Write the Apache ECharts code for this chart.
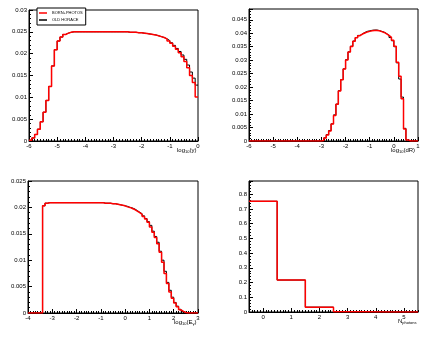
<!DOCTYPE html>
<html>
<head>
<meta charset="utf-8">
<script src="https://cdn.jsdelivr.net/npm/echarts@6/dist/echarts.min.js"></script>
<style>
  html, body { margin: 0; padding: 0; background: #fff; }
  #chart { width: 436px; height: 338px; }
</style>
</head>
<body>
<div id="chart"></div>
<script>
// panel 1: log10(y), bins of 0.1 from -6 to 0
var yBinStart = -6, yBinWidth = 0.1
var yBorn = [
  0.0002, 0.0007, 0.0015, 0.0027, 0.0044, 0.0066, 0.0093, 0.0125, 0.0172, 0.0209,
  0.0229, 0.0238, 0.0244, 0.0247, 0.0249, 0.0250, 0.0250, 0.0250, 0.0250, 0.0250,
  0.0250, 0.0250, 0.0250, 0.0250, 0.0250, 0.0250, 0.0250, 0.0250, 0.0250, 0.0250,
  0.0250, 0.0250, 0.0250, 0.0250, 0.0250, 0.0249, 0.0249, 0.0249, 0.0248, 0.0248,
  0.0247, 0.0246, 0.0245, 0.0244, 0.0243, 0.0241, 0.0239, 0.0237, 0.0234, 0.0229,
  0.0224, 0.0217, 0.0210, 0.0202, 0.0193, 0.0182, 0.0168, 0.0150, 0.0134, 0.0101
]
var yOld = [
  0.0002, 0.0007, 0.0015, 0.0027, 0.0044, 0.0066, 0.0093, 0.0125, 0.0172, 0.0209,
  0.0229, 0.0238, 0.0244, 0.0247, 0.0249, 0.0250, 0.0250, 0.0250, 0.0250, 0.0250,
  0.0250, 0.0250, 0.0250, 0.0250, 0.0250, 0.0250, 0.0250, 0.0250, 0.0250, 0.0250,
  0.0250, 0.0250, 0.0250, 0.0250, 0.0250, 0.0249, 0.0249, 0.0249, 0.0248, 0.0248,
  0.0247, 0.0246, 0.0245, 0.0244, 0.0243, 0.0241, 0.0239, 0.0237, 0.0234, 0.0230,
  0.0225, 0.0219, 0.0212, 0.0205, 0.0197, 0.0187, 0.0174, 0.0158, 0.0144, 0.0128
]

// panel 2: log10(dR), bins of 0.1 from -6 to 1
var dRBinStart = -6, dRBinWidth = 0.1
var dRBorn = [
  0, 0, 0, 0, 0, 0, 0, 0, 0, 0,
  0, 0, 0, 0, 0, 0, 0, 0, 0, 0,
  0, 0, 0, 0, 0, 0, 0, 0, 0, 0,
  0.0002, 0.0011, 0.0022, 0.0037, 0.0063, 0.0095, 0.0136, 0.0186, 0.0227, 0.0267,
  0.0301, 0.0330, 0.0351, 0.0370, 0.0383, 0.0391, 0.0397, 0.0401, 0.0405, 0.0407,
  0.0409, 0.0410, 0.0410, 0.0409, 0.0406, 0.0403, 0.0398, 0.0392, 0.0385, 0.0374,
  0.0352, 0.0292, 0.0240, 0.0157, 0.0045, 0.0004, 0, 0, 0, 0
]
var dROld = [
  0, 0, 0, 0, 0, 0, 0, 0, 0, 0,
  0, 0, 0, 0, 0, 0, 0, 0, 0, 0,
  0, 0, 0, 0, 0, 0, 0, 0, 0, 0,
  0.0003, 0.0012, 0.0024, 0.0039, 0.0064, 0.0097, 0.0137, 0.0187, 0.0228, 0.0268,
  0.0302, 0.0331, 0.0352, 0.0371, 0.0384, 0.0392, 0.0398, 0.0403, 0.0407, 0.0409,
  0.0411, 0.0412, 0.0412, 0.0410, 0.0407, 0.0404, 0.0399, 0.0392, 0.0384, 0.0372,
  0.0350, 0.0290, 0.0230, 0.0163, 0.0047, 0.0004, 0, 0, 0, 0
]

// panel 3: log10(E_gamma), bins of 0.1 from -4 to 3
var eBinStart = -4, eBinWidth = 0.1
var eBorn = [
  0, 0, 0, 0, 0, 0, 0.0203, 0.0208, 0.0209, 0.0209,
  0.0209, 0.0209, 0.0209, 0.0209, 0.0209, 0.0209, 0.0209, 0.0209, 0.0209, 0.0209,
  0.0209, 0.0209, 0.0209, 0.0209, 0.0209, 0.0209, 0.0209, 0.0209, 0.0209, 0.0209,
  0.0209, 0.0208, 0.0208, 0.0208, 0.0207, 0.0207, 0.0206, 0.0205, 0.0204, 0.0203,
  0.0201, 0.0200, 0.0198, 0.0196, 0.0193, 0.0190, 0.0187, 0.0183, 0.0178, 0.0172,
  0.0163, 0.0153, 0.0143, 0.0131, 0.0115, 0.0096, 0.0075, 0.0056, 0.0040, 0.0028,
  0.0019, 0.0012, 0.0006, 0.0003, 0.0001, 0, 0, 0, 0, 0
]
var eOld = [
  0, 0, 0, 0, 0, 0, 0.0203, 0.0208, 0.0209, 0.0209,
  0.0209, 0.0209, 0.0209, 0.0209, 0.0209, 0.0209, 0.0209, 0.0209, 0.0209, 0.0209,
  0.0209, 0.0209, 0.0209, 0.0209, 0.0209, 0.0209, 0.0209, 0.0209, 0.0209, 0.0209,
  0.0209, 0.0208, 0.0208, 0.0208, 0.0207, 0.0207, 0.0206, 0.0205, 0.0204, 0.0203,
  0.0202, 0.0200, 0.0199, 0.0197, 0.0194, 0.0191, 0.0188, 0.0184, 0.0179, 0.0173,
  0.0166, 0.0155, 0.0145, 0.0134, 0.0117, 0.0100, 0.0079, 0.0058, 0.0043, 0.0030,
  0.0020, 0.0013, 0.0007, 0.0003, 0.0001, 0, 0, 0, 0, 0
]

// panel 4: N_photons, integer bins 0..5
var nBinStart = -0.5, nBinWidth = 1
var nBorn = [0.752, 0.217, 0.033, 0.002, 0.0001, 0]
var nOld = [0.752, 0.217, 0.033, 0.002, 0.0001, 0]
var nTicks = [0, 1, 2, 3, 4, 5]

// left edges + closing right edge, drawn with step:'end'
function histPoints(start, width, vals) {
  var pts = vals.map(function(v, i) { return [start + i * width, v] })
  pts.push([start + vals.length * width, vals[vals.length - 1]])
  return pts
}

var font = 'Liberation Sans'
var rich = {
  a: { fontSize: 6, fontFamily: font, color: '#000', lineHeight: 8 },
  s: { fontSize: 4, fontFamily: font, color: '#000', lineHeight: 8, padding: [4, 0, 0, 0] }
}

function xAxisOf(idx, min, max, name, gap, extra) {
  var ax = {
    type: 'value',
    gridIndex: idx,
    position: 'bottom',
    min: min,
    max: max,
    interval: 1,
    name: name,
    nameLocation: 'end',
    nameGap: gap,
    nameMoveOverlap: false,
    nameTextStyle: { verticalAlign: 'top', padding: [5, 0, 0, 0], rich: rich },
    axisLine: { onZero: false, lineStyle: { color: '#000', width: 1 } },
    axisTick: { inside: true, length: 4, lineStyle: { color: '#000' } },
    minorTick: { show: true, splitNumber: 10, length: 2, lineStyle: { color: '#000' } },
    splitLine: { show: false },
    axisLabel: { fontSize: 6, fontFamily: font, color: '#000', margin: 2 }
  }
  return Object.assign(ax, extra || {})
}

function yAxisOf(idx, max, interval, showMax) {
  return {
    type: 'value',
    gridIndex: idx,
    min: 0,
    max: max,
    interval: interval,
    axisLine: { show: true, onZero: false, lineStyle: { color: '#000', width: 1 } },
    axisTick: { show: true, inside: true, length: 4, lineStyle: { color: '#000' } },
    minorTick: { show: true, splitNumber: 5, length: 2, lineStyle: { color: '#000' } },
    splitLine: { show: false },
    axisLabel: { fontSize: 6, fontFamily: font, color: '#000', margin: 2, showMaxLabel: showMax }
  }
}

function pair(idx, start, width, born, old) {
  return [
    {
      name: 'OLD HORACE', type: 'line', xAxisIndex: idx, yAxisIndex: idx,
      step: 'end', showSymbol: false, color: '#000',
      lineStyle: { color: '#000', width: 1 },
      data: histPoints(start, width, old)
    },
    {
      name: 'BORN+PHOTOS', type: 'line', xAxisIndex: idx, yAxisIndex: idx,
      step: 'end', showSymbol: false, color: '#ff0000',
      lineStyle: { color: '#ff0000', width: 1.5 },
      data: histPoints(start, width, born)
    }
  ]
}

var chart = echarts.init(document.getElementById('chart'))
chart.setOption({
  animation: false,
  backgroundColor: '#fff',
  grid: [
    { left: 29, top: 10, width: 169, height: 131, show: true, borderColor: '#000', borderWidth: 1 },
    { left: 249, top: 9, width: 169, height: 132, show: true, borderColor: '#000', borderWidth: 1 },
    { left: 28, top: 181, width: 170, height: 132, show: true, borderColor: '#000', borderWidth: 1 },
    { left: 249, top: 181, width: 169, height: 131, show: true, borderColor: '#000', borderWidth: 1 }
  ],
  legend: {
    left: 37, top: 8, orient: 'vertical',
    itemWidth: 8, itemHeight: 1.5, itemGap: 3,
    padding: [3, 3, 3, 2],
    borderColor: '#000', borderWidth: 1, backgroundColor: '#fff',
    textStyle: { fontSize: 4, fontFamily: font, color: '#000' },
    data: [{ name: 'BORN+PHOTOS', icon: 'rect' }, { name: 'OLD HORACE', icon: 'rect' }]
  },
  xAxis: [
    xAxisOf(0, -6, 0, '{a|log}{s|10}{a|(y)}', -21),
    xAxisOf(1, -6, 1, '{a|log}{s|10}{a|(dR)}', -27),
    xAxisOf(2, -4, 3, '{a|log}{s|10}{a|(E}{s|γ}{a|)}', -24),
    xAxisOf(3, -0.5, 5.5, '{a|N}{s|photons}', -20, {
      interval: null,
      axisTick: { inside: true, length: 4, customValues: nTicks, lineStyle: { color: '#000' } },
      axisLabel: { fontSize: 6, fontFamily: font, color: '#000', margin: 2, customValues: nTicks },
      minorTick: { show: false }
    }),
    {
      type: 'value', gridIndex: 3, position: 'bottom', min: -0.5, max: 5.5, interval: 0.1,
      axisLine: { show: false, onZero: false },
      axisTick: { inside: true, length: 2, lineStyle: { color: '#000' } },
      axisLabel: { show: false },
      splitLine: { show: false }
    }
  ],
  yAxis: [
    yAxisOf(0, 0.03, 0.005, true),
    yAxisOf(1, 0.049, 0.005, false),
    yAxisOf(2, 0.025, 0.005, true),
    yAxisOf(3, 0.89, 0.1, false)
  ],
  series: [].concat(
    pair(0, yBinStart, yBinWidth, yBorn, yOld),
    pair(1, dRBinStart, dRBinWidth, dRBorn, dROld),
    pair(2, eBinStart, eBinWidth, eBorn, eOld),
    pair(3, nBinStart, nBinWidth, nBorn, nOld)
  )
})
</script>
</body>
</html>
